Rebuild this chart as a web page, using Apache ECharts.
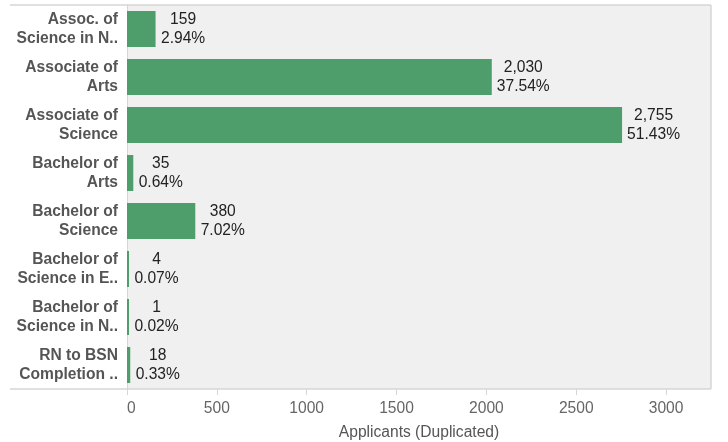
<!DOCTYPE html>
<html><head><meta charset="utf-8">
<script src="https://cdn.jsdelivr.net/npm/echarts@6/dist/echarts.min.js"></script>
<style>html,body{margin:0;padding:0;background:#fff}#c{width:728px;height:442px}</style>
</head><body><div id="c"></div>
<script>
const categories = [
  "Assoc. of\nScience in N..",
  "Associate of\nArts",
  "Associate of\nScience",
  "Bachelor of\nArts",
  "Bachelor of\nScience",
  "Bachelor of\nScience in E..",
  "Bachelor of\nScience in N..",
  "RN to BSN\nCompletion .."
];
const applicants = [159, 2030, 2755, 35, 380, 4, 1, 18];
const percents = ["2.94%", "37.54%", "51.43%", "0.64%", "7.02%", "0.07%", "0.02%", "0.33%"];
const xTicks = [0, 500, 1000, 1500, 2000, 2500, 3000];

const FONT = 'Arial, "Liberation Sans", sans-serif';
const FS = 15.6;
const ctx = document.createElement('canvas').getContext('2d');
ctx.font = FS + 'px ' + FONT;
const fmtNum = v => v.toLocaleString('en-US');

const seriesData = applicants.map((v, i) => {
  const w = Math.ceil(Math.max(ctx.measureText(fmtNum(v)).width, ctx.measureText(percents[i]).width));
  return {
    value: v,
    label: { rich: { a: { width: w, align: 'center', fontSize: FS, lineHeight: 19, color: '#222', fontFamily: FONT } } }
  };
});

const chart = echarts.init(document.getElementById('c'));
const gridLeft = 127, gridTop = 5, gridRight = 17, gridBottom = 53;
const W = 728, H = 442;
const lineColor = '#d6d6d6';
chart.setOption({
  animation: false,
  grid: { left: gridLeft, right: gridRight, top: gridTop, bottom: gridBottom, show: true, backgroundColor: '#f0f0f0', borderWidth: 0, containLabel: false, outerBoundsMode: 'none' },
  xAxis: {
    type: 'value', min: 0, max: 3250, interval: 500,
    name: 'Applicants (Duplicated)', nameLocation: 'middle', nameGap: 36,
    nameTextStyle: { color: '#555', fontSize: FS, fontFamily: FONT },
    axisLine: { show: false },
    axisTick: { show: true, length: 6, lineStyle: { color: lineColor } },
    splitLine: { show: false },
    axisLabel: { color: '#666', fontSize: FS, fontFamily: FONT, margin: 12, showMaxLabel: false, alignMinLabel: 'left',
      formatter: v => xTicks.includes(v) ? String(v) : '' }
  },
  yAxis: {
    type: 'category', data: categories, inverse: true,
    axisLine: { show: true, lineStyle: { color: lineColor } },
    axisTick: { show: false },
    axisLabel: { color: '#555', fontSize: FS, fontWeight: 'bold', fontFamily: FONT, lineHeight: 19, margin: 9, align: 'right' }
  },
  series: [{
    type: 'bar', data: seriesData, barCategoryGap: '25%', barMinHeight: 2,
    itemStyle: { color: '#4e9e6c' },
    label: {
      show: true, position: 'right', distance: 5,
      formatter: p => '{a|' + fmtNum(applicants[p.dataIndex]) + '}\n{a|' + percents[p.dataIndex] + '}'
    }
  }],
  graphic: [
    { type: 'line', silent: true, shape: { x1: 10, y1: gridTop, x2: W - gridRight, y2: gridTop }, style: { stroke: lineColor, lineWidth: 1.5 } },
    { type: 'line', silent: true, shape: { x1: 10, y1: H - gridBottom, x2: W - gridRight, y2: H - gridBottom }, style: { stroke: lineColor, lineWidth: 1.5 } },
    { type: 'line', silent: true, shape: { x1: W - gridRight, y1: gridTop, x2: W - gridRight, y2: H - gridBottom }, style: { stroke: lineColor, lineWidth: 1.5 } }
  ]
});
</script></body></html>
